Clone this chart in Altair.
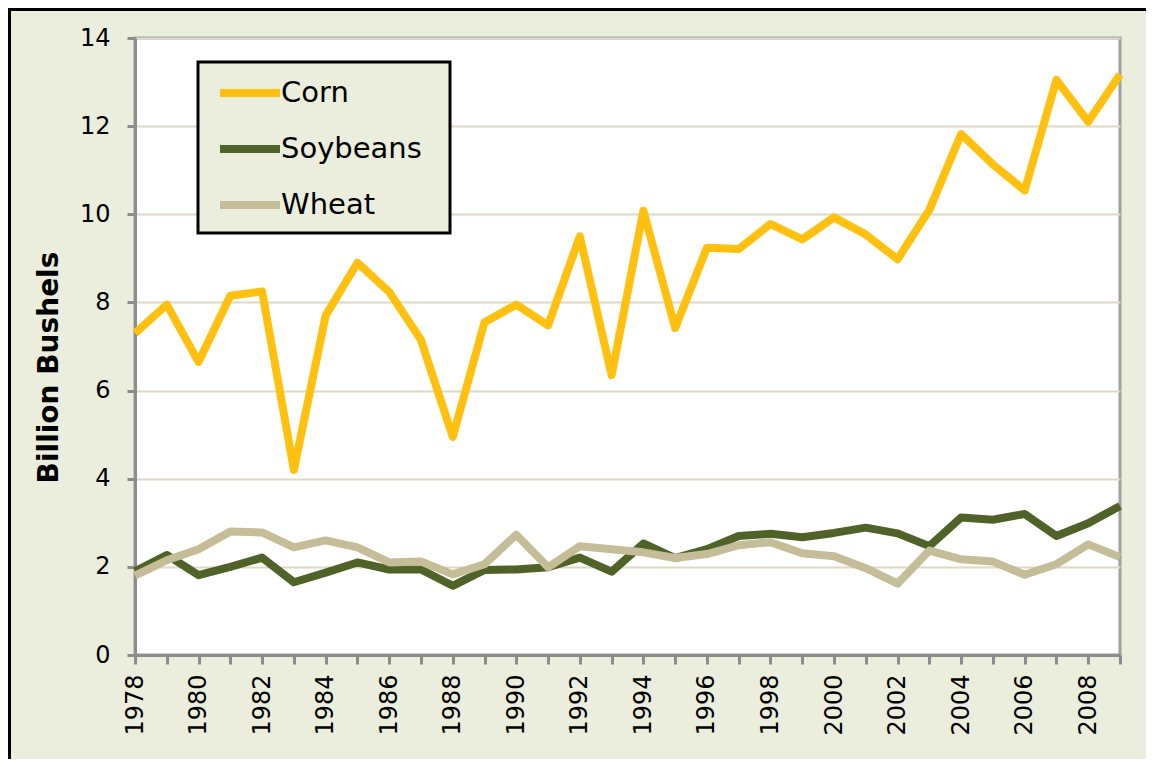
import altair as alt
import pandas as pd

years = list(range(1978, 2010))
corn = [7.30, 7.95, 6.65, 8.15, 8.25, 4.20, 7.70, 8.90, 8.24, 7.15, 4.95, 7.55,
        7.95, 7.48, 9.50, 6.35, 10.08, 7.42, 9.24, 9.21, 9.78, 9.43, 9.93, 9.54,
        8.98, 10.10, 11.82, 11.13, 10.54, 13.05, 12.10, 13.17]
soybeans = [1.90, 2.27, 1.81, 2.00, 2.21, 1.65, 1.87, 2.10, 1.94, 1.94, 1.57, 1.93,
            1.94, 1.99, 2.21, 1.89, 2.53, 2.20, 2.40, 2.70, 2.75, 2.67, 2.77, 2.89,
            2.76, 2.47, 3.12, 3.07, 3.20, 2.70, 2.99, 3.38]
wheat = [1.80, 2.15, 2.40, 2.80, 2.78, 2.44, 2.60, 2.44, 2.10, 2.12, 1.83, 2.06,
         2.73, 1.99, 2.47, 2.40, 2.33, 2.20, 2.29, 2.49, 2.56, 2.31, 2.24, 1.97,
         1.62, 2.37, 2.17, 2.12, 1.82, 2.06, 2.51, 2.22]
crops = ["Corn", "Soybeans", "Wheat"]
colors = ["#FFC010", "#4F6228", "#C4BD97"]
y_ticks = [0, 2, 4, 6, 8, 10, 12, 14]

rows = []
for crop, vals in zip(crops, [corn, soybeans, wheat]):
    for yr, v in zip(years, vals):
        rows.append({"Year": yr, "Crop": crop, "Value": v})
df = pd.DataFrame(rows)

W, H = 985, 617
BG = "#EBEEDD"
one = pd.DataFrame({"a": [0]})

border_left = alt.Chart(one).mark_rule(color="black", strokeWidth=3).encode(
    x=alt.value(-125.5), y=alt.value(-30), y2=alt.value(H + 104)
)
border_top = alt.Chart(one).mark_rule(color="black", strokeWidth=3).encode(
    y=alt.value(-28.5), x=alt.value(-127), x2=alt.value(W + 26)
)

lines = alt.Chart(df).mark_line(strokeWidth=8, strokeJoin="round", strokeCap="butt").encode(
    x=alt.X("Year:Q",
            scale=alt.Scale(domain=[1978, 2009], nice=False, zero=False),
            axis=alt.Axis(values=years, labelExpr="datum.value % 2 == 0 ? datum.value : ''",
                          labelAngle=-90, labelAlign="right", labelBaseline="middle",
                          labelFontSize=24, labelFont="DejaVu Sans", labelColor="black",
                          labelPadding=10, tickSize=9, tickWidth=3, tickColor="#8C8C8C",
                          domainColor="#8C8C8C", domainWidth=3, grid=False, title=None,
                          labelOverlap=False, labelFlush=False)),
    y=alt.Y("Value:Q",
            scale=alt.Scale(domain=[0, 14], nice=False),
            axis=alt.Axis(values=y_ticks, title="Billion Bushels", titleFont="DejaVu Sans",
                          titleFontSize=28, titleFontWeight="bold", titleColor="black",
                          titleAngle=-90, titleX=-78, titleY=329, titleAlign="center",
                          titleBaseline="alphabetic",
                          labelFontSize=24, labelFont="DejaVu Sans", labelColor="black",
                          labelPadding=17, tickSize=8, tickWidth=3, tickColor="#8C8C8C",
                          domainColor="#8C8C8C", domainWidth=3,
                          grid=True, gridColor="#DDD9C3", gridWidth=2)),
    color=alt.Color("Crop:N", scale=alt.Scale(domain=crops, range=colors),
                    legend=alt.Legend(orient="none", legendX=63, legendY=24,
                                      title="x", titleOrient="right", titleOpacity=0,
                                      titleFontSize=10, titlePadding=10,
                                      symbolType="M-2,0L2,0", symbolSize=900,
                                      symbolStrokeWidth=8, symbolOffset=21,
                                      labelFontSize=29, labelLimit=400,
                                      labelFont="DejaVu Sans", labelColor="black",
                                      labelOffset=12, rowPadding=21, padding=12,
                                      strokeColor="black", fillColor=BG))
)

chart = alt.layer(border_left, border_top, lines).properties(
    width=W, height=H, background=BG,
    padding={"left": 127, "top": 30, "right": 26, "bottom": 104},
    autosize=alt.AutoSizeParams(type="none")
).configure_view(fill="white", stroke="#A0A0A0", strokeWidth=3
).configure_legend(strokeWidth=3, cornerRadius=0)

chart.save("out.html", embed_options={"renderer": "svg", "actions": False})
